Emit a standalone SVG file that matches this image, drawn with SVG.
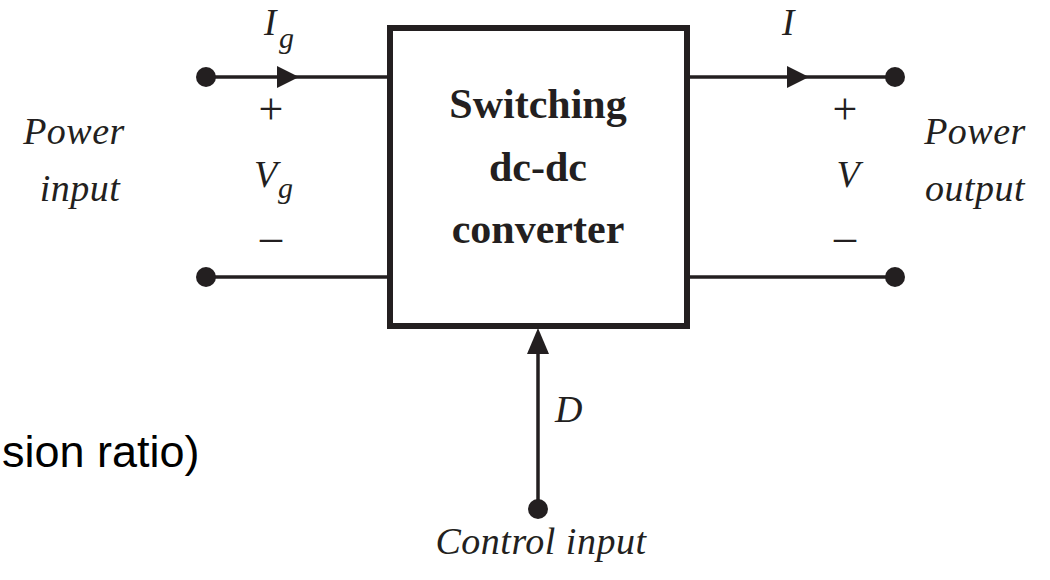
<svg xmlns="http://www.w3.org/2000/svg" width="1050" height="580" viewBox="0 0 1050 580">
<style>
.w{stroke:#231f20;stroke-width:3.5;fill:none}
.dot{fill:#231f20}
.ah{fill:#231f20}
.it{font-family:"Liberation Serif","Times New Roman",serif;font-style:italic;fill:#231f20}
.lb{font-size:38px;text-anchor:middle;letter-spacing:0.5px}
.rm{font-family:"Liberation Serif","Times New Roman",serif;fill:#231f20;font-size:44px;text-anchor:middle}
.bd{font-family:"Liberation Serif","Times New Roman",serif;font-weight:bold;fill:#231f20;font-size:42px;text-anchor:middle}
.sans{font-family:"Liberation Sans",Arial,sans-serif;fill:#000}
</style>
<rect width="1050" height="580" fill="#fff"/>
<g id="connectors">
<line class="w" x1="206" y1="77" x2="390" y2="77"/>
<line class="w" x1="206" y1="277" x2="390" y2="277"/>
<line class="w" x1="687" y1="77" x2="895" y2="77"/>
<line class="w" x1="687" y1="277" x2="895" y2="277"/>
<line class="w" x1="538" y1="509" x2="538" y2="340"/>
<polygon class="ah" points="299,77 277,66 277,88"/>
<polygon class="ah" points="809,77 787,66 787,88"/>
<polygon class="ah" points="538,328 527,354 549,354"/>
</g>
<g id="converter">
<rect x="390" y="28" width="297" height="298" fill="#fff" stroke="#231f20" stroke-width="6"/>
<text class="bd" x="538" y="118">Switching</text>
<text class="bd" x="538" y="181">dc-dc</text>
<text class="bd" x="538" y="243">converter</text>
</g>
<g id="power-input">
<circle class="dot" cx="206" cy="77" r="10"/>
<circle class="dot" cx="206" cy="277" r="10"/>
<text class="it" x="264" y="35" font-size="37">I</text>
<text class="it" x="279" y="48" font-size="30">g</text>
<text class="rm" x="271" y="124">+</text>
<text class="it" x="254" y="187" font-size="38">V</text>
<text class="it" x="278" y="198" font-size="30">g</text>
<text class="rm" x="271" y="251">–</text>
<text class="it lb" x="74" y="144">Power</text>
<text class="it lb" x="80" y="201">input</text>
</g>
<g id="power-output">
<circle class="dot" cx="895" cy="77" r="10"/>
<circle class="dot" cx="895" cy="277" r="10"/>
<text class="it" x="782" y="35" font-size="37">I</text>
<text class="rm" x="845" y="124">+</text>
<text class="it" x="848" y="187" font-size="38" text-anchor="middle">V</text>
<text class="rm" x="845" y="251">–</text>
<text class="it lb" x="975" y="144">Power</text>
<text class="it lb" x="975" y="201">output</text>
</g>
<g id="control-input">
<circle class="dot" cx="538" cy="509" r="10"/>
<text class="it" x="555" y="422" font-size="38">D</text>
<text class="it lb" x="541" y="554">Control input</text>
</g>
<g id="caption">
<text class="sans" x="2" y="467" font-size="45">sion ratio)</text>
</g>
</svg>
